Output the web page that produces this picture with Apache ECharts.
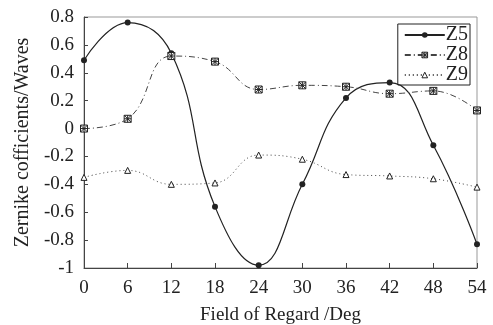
<!DOCTYPE html>
<html>
<head>
<meta charset="utf-8">
<script src="https://cdn.jsdelivr.net/npm/echarts@6/dist/echarts.min.js"></script>
<style>
  html, body { margin: 0; padding: 0; background: #fff; }
  #chart { width: 493px; height: 325px; }
</style>
</head>
<body>
<div id="chart"></div>
<script>
// Field of regard (deg)
const fields = [0, 6, 12, 18, 24, 30, 36, 42, 48, 54];
// Zernike coefficients
const z5 = [0.49, 0.76, 0.54, -0.56, -0.98, -0.40, 0.22, 0.33, -0.12, -0.83];
const z8 = [0.00, 0.07, 0.52, 0.48, 0.28, 0.31, 0.30, 0.25, 0.27, 0.13];
const z9 = [-0.35, -0.30, -0.40, -0.39, -0.19, -0.22, -0.33, -0.34, -0.36, -0.42];

const FONT = "'Liberation Serif', 'Times New Roman', serif";
const INK = "#222";

const pairs = (ys) => fields.map((x, i) => [x, ys[i]]);

const chart = echarts.init(document.getElementById("chart"));

const hashBox = "path://M0,0L10,0L10,10L0,10Z M0,0L10,10 M10,0L0,10 M5,0L5,10 M0,5L10,5";
const hollow = { color: "#fff", borderColor: INK, borderWidth: 1 };

chart.setOption({
  animation: false,
  grid: {
    left: 84, right: 16, top: 17, bottom: 57,
    outerBoundsMode: "none",
    containLabel: false,
    show: true,
    borderColor: "#999",
    borderWidth: 1,
  },
  legend: {
    orient: "vertical",
    right: 23,
    top: 24,
    itemWidth: 40,
    itemHeight: 7,
    itemGap: 0,
    padding: [1, 2, 0, 6],
    borderColor: INK,
    borderWidth: 1,
    textStyle: { fontFamily: FONT, fontSize: 20, lineHeight: 17, color: INK, padding: [0, 0, 0, -4] },
    data: [
      { name: "Z5" },
      { name: "Z8", itemStyle: hollow },
      { name: "Z9", itemStyle: hollow },
    ],
  },
  xAxis: {
    type: "value",
    min: 0, max: 54, interval: 6,
    name: "Field of Regard /Deg",
    nameLocation: "middle",
    nameGap: 38,
    nameTextStyle: { fontFamily: FONT, fontSize: 19, color: INK },
    axisLine: { onZero: false, lineStyle: { color: "#444" } },
    axisTick: { inside: true, length: 5, lineStyle: { color: "#444" } },
    axisLabel: { fontFamily: FONT, fontSize: 19, color: INK, margin: 11 },
    splitLine: { show: false },
  },
  yAxis: {
    type: "value",
    min: -1, max: 0.8, interval: 0.2,
    name: "Zernike cofficients/Waves",
    nameLocation: "middle",
    nameGap: 48,
    nameTextStyle: { fontFamily: FONT, fontSize: 20, color: INK },
    axisLine: { show: true, onZero: false, lineStyle: { color: "#444" } },
    axisTick: { show: true, inside: true, length: 4, lineStyle: { color: "#444" } },
    axisLabel: {
      fontFamily: FONT, fontSize: 19, color: INK, margin: 10,
      formatter: (v) => String(parseFloat(v.toFixed(1))),
    },
    splitLine: { show: false },
  },
  series: [
    {
      name: "Z5",
      type: "line",
      data: pairs(z5),
      smooth: 0.45,
      symbol: "circle",
      symbolSize: 6,
      lineStyle: { color: INK, width: 1.2, type: "solid" },
      itemStyle: { color: INK },
    },
    {
      name: "Z8",
      type: "line",
      data: pairs(z8),
      smooth: 0.45,
      symbol: hashBox,
      symbolSize: 7,
      lineStyle: { color: "#444", width: 1, type: [6, 3, 1, 3] },
      itemStyle: hollow,
    },
    {
      name: "Z9",
      type: "line",
      data: pairs(z9),
      smooth: 0.45,
      symbol: "triangle",
      symbolSize: 6,
      lineStyle: { color: "#444", width: 1, type: [1, 3] },
      itemStyle: hollow,
    },
  ],
});
</script>
</body>
</html>
